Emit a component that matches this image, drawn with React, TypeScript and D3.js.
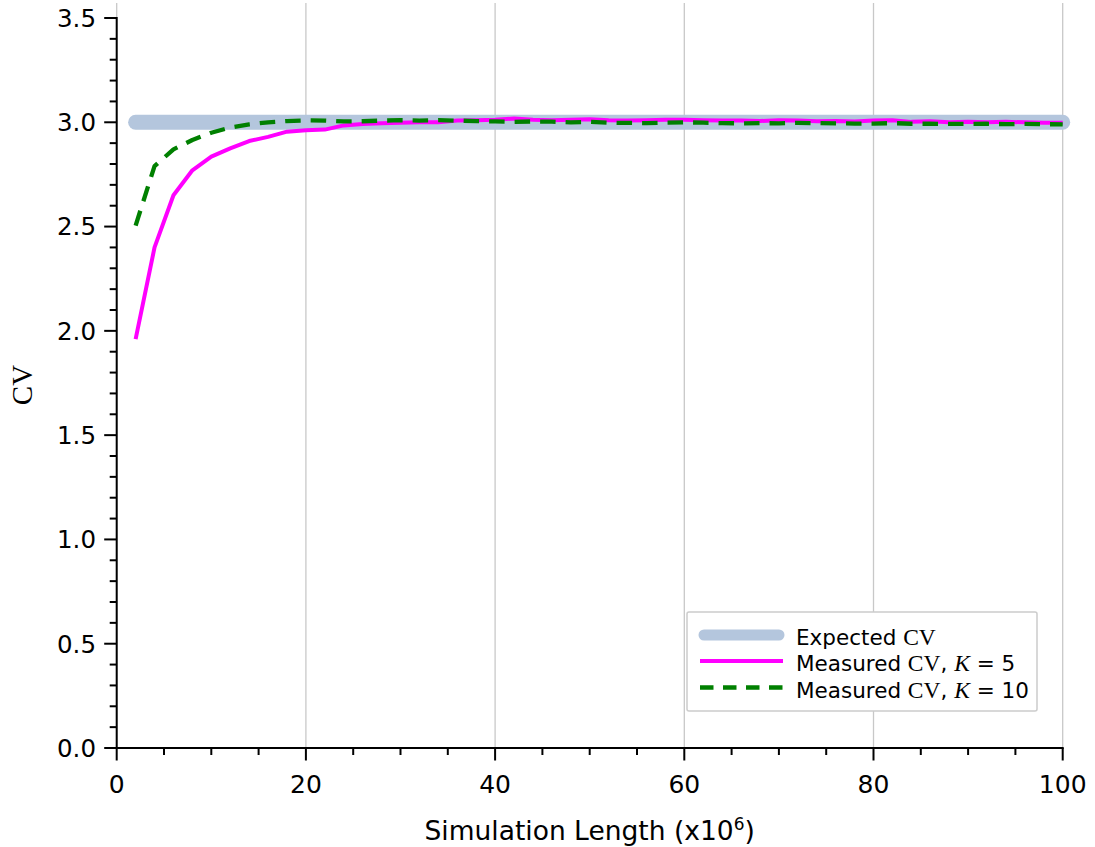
import React from "react";
import * as d3 from "d3";

const simLength = [2, 4, 6, 8, 10, 12, 14, 16, 18, 20, 22, 24, 26, 28, 30, 32, 34, 36, 38, 40, 42, 44, 46, 48, 50, 52, 54, 56, 58, 60, 62, 64, 66, 68, 70, 72, 74, 76, 78, 80, 82, 84, 86, 88, 90, 92, 94, 96, 98, 100];

const measuredK5 = [1.96, 2.40, 2.65, 2.77, 2.835, 2.875, 2.91, 2.93, 2.955, 2.962, 2.965, 2.985, 2.992, 2.995, 2.998, 3.0, 3.0, 3.008, 3.01, 3.012, 3.018, 3.012, 3.01, 3.012, 3.015, 3.01, 3.008, 3.01, 3.012, 3.012, 3.01, 3.008, 3.008, 3.006, 3.01, 3.008, 3.005, 3.006, 3.004, 3.008, 3.01, 3.002, 3.005, 3.0, 3.003, 3.0, 3.002, 3.0, 2.998, 2.998];

const measuredK10 = [2.505, 2.79, 2.87, 2.915, 2.95, 2.975, 2.99, 3.0, 3.006, 3.009, 3.008, 3.004, 3.005, 3.008, 3.01, 3.008, 3.01, 3.008, 3.006, 3.004, 3.002, 3.004, 3.003, 3.0, 3.002, 2.998, 2.997, 2.996, 2.998, 3.0, 2.998, 2.996, 2.995, 2.996, 2.995, 2.997, 2.996, 2.995, 2.994, 2.994, 2.996, 2.993, 2.993, 2.992, 2.992, 2.993, 2.991, 2.992, 2.991, 2.99];

const expectedCV = 3.0;

const xMajorTicks = [0, 20, 40, 60, 80, 100];
const xMinorTicks = [5, 10, 15, 25, 30, 35, 45, 50, 55, 65, 70, 75, 85, 90, 95];
const yMajorTicks = [0.0, 0.5, 1.0, 1.5, 2.0, 2.5, 3.0, 3.5];
const yMinorTicks = [0.1, 0.2, 0.3, 0.4, 0.6, 0.7, 0.8, 0.9, 1.1, 1.2, 1.3, 1.4, 1.6, 1.7, 1.8, 1.9, 2.1, 2.2, 2.3, 2.4, 2.6, 2.7, 2.8, 2.9, 3.1, 3.2, 3.3, 3.4];

const W = 1095;
const H = 847;
const left = 116.7;
const right = 1062.7;
const bottom = 748;
const yTopValue = 3.5;
const yTopPx = 18;

export default function App() {
  const x = d3.scaleLinear().domain([0, 100]).range([left, right]);
  const y = d3.scaleLinear().domain([0, yTopValue]).range([bottom, yTopPx]);
  const plotTop = 3;

  const line = d3
    .line<[number, number]>()
    .x((d) => x(d[0]))
    .y((d) => y(d[1]));

  const k5: [number, number][] = simLength.map((s, i) => [s, measuredK5[i]]);
  const k10: [number, number][] = simLength.map((s, i) => [s, measuredK10[i]]);
  const exp: [number, number][] = simLength.map((s) => [s, expectedCV]);

  const font = "'DejaVu Sans', sans-serif";
  const serif = "'Liberation Serif', 'DejaVu Serif', serif";

  const legX = 687;
  const legY = 612;
  const legW = 350;
  const legH = 99;
  const rows = [635, 661, 687.5];

  return (
    <svg
      width={W}
      height={H}
      style={{ position: "absolute", left: 0, top: 0, background: "#fff" }}
      xmlns="http://www.w3.org/2000/svg"
    >
      <rect x={0} y={0} width={W} height={H} fill="#fff" />
      {/* grid */}
      {xMajorTicks.map((t) => (
        <line key={"g" + t} x1={x(t)} x2={x(t)} y1={plotTop} y2={bottom} stroke="#c8c8c8" strokeWidth={1.3} />
      ))}
      {/* expected */}
      <path d={line(exp) || ""} fill="none" stroke="#b4c6dd" strokeWidth={15} strokeLinecap="round" />
      {/* K=5 */}
      <path d={line(k5) || ""} fill="none" stroke="#ff00ff" strokeWidth={4} strokeLinejoin="round" />
      {/* K=10 */}
      <path d={line(k10) || ""} fill="none" stroke="#008000" strokeWidth={4.3} strokeDasharray="15.5,10" strokeLinejoin="round" />

      {/* axes spines */}
      <line x1={left} x2={left} y1={y(3.5)} y2={bottom} stroke="#000" strokeWidth={2} strokeLinecap="square" />
      <line x1={left} x2={right} y1={bottom} y2={bottom} stroke="#000" strokeWidth={2} strokeLinecap="square" />

      {/* x ticks */}
      {xMajorTicks.map((t) => (
        <g key={"xt" + t}>
          <line x1={x(t)} x2={x(t)} y1={bottom} y2={bottom + 12.5} stroke="#000" strokeWidth={2} />
          <text x={x(t)} y={793} textAnchor="middle" fontFamily={font} fontSize={25} fill="#000">
            {t}
          </text>
        </g>
      ))}
      {xMinorTicks.map((t) => (
        <line key={"xm" + t} x1={x(t)} x2={x(t)} y1={bottom} y2={bottom + 7} stroke="#000" strokeWidth={2} />
      ))}
      {/* y ticks */}
      {yMajorTicks.map((t) => (
        <g key={"yt" + t}>
          <line x1={left - 12.5} x2={left} y1={y(t)} y2={y(t)} stroke="#000" strokeWidth={2} />
          <text x={96} y={y(t)} dy="0.36em" textAnchor="end" fontFamily={font} fontSize={24.5} fill="#000">
            {t.toFixed(1)}
          </text>
        </g>
      ))}
      {yMinorTicks.map((t) => (
        <line key={"ym" + t} x1={left - 7} x2={left} y1={y(t)} y2={y(t)} stroke="#000" strokeWidth={2} />
      ))}

      {/* axis labels */}
      <text x={(left + right) / 2} y={840} textAnchor="middle" fontFamily={font} fontSize={26.5} fill="#000">
        Simulation Length (x10
        <tspan fontSize={17} dy={-10}>6</tspan>
        <tspan dy={10}>)</tspan>
      </text>
      <text
        transform={`translate(32, 385) rotate(-90)`}
        textAnchor="middle"
        fontFamily={serif}
        fontSize={29}
        fill="#000"
      >
        CV
      </text>

      {/* legend */}
      <rect x={legX} y={legY} width={legW} height={legH} rx={2} fill="#fff" stroke="#cccccc" strokeWidth={1.5} />
      <line x1={704} x2={779} y1={rows[0]} y2={rows[0]} stroke="#b4c6dd" strokeWidth={11} strokeLinecap="round" />
      <line x1={700} x2={783} y1={rows[1]} y2={rows[1]} stroke="#ff00ff" strokeWidth={4} />
      <line x1={700} x2={783} y1={rows[2]} y2={rows[2]} stroke="#008000" strokeWidth={4.3} strokeDasharray="13.5,9.5" />
      <text x={796} y={rows[0] + 10} fontFamily={font} fontSize={21.5} fill="#000">
        Expected <tspan fontFamily={serif} fontSize={23.5}>CV</tspan>
      </text>
      <text x={796} y={rows[1] + 10} fontFamily={font} fontSize={21.5} fill="#000">
        Measured <tspan fontFamily={serif} fontSize={23.5}>CV</tspan>, <tspan fontFamily={serif} fontStyle="italic" fontSize={23.5}>K</tspan> = 5
      </text>
      <text x={796} y={rows[2] + 10} fontFamily={font} fontSize={21.5} fill="#000">
        Measured <tspan fontFamily={serif} fontSize={23.5}>CV</tspan>, <tspan fontFamily={serif} fontStyle="italic" fontSize={23.5}>K</tspan> = 10
      </text>
    </svg>
  );
}
